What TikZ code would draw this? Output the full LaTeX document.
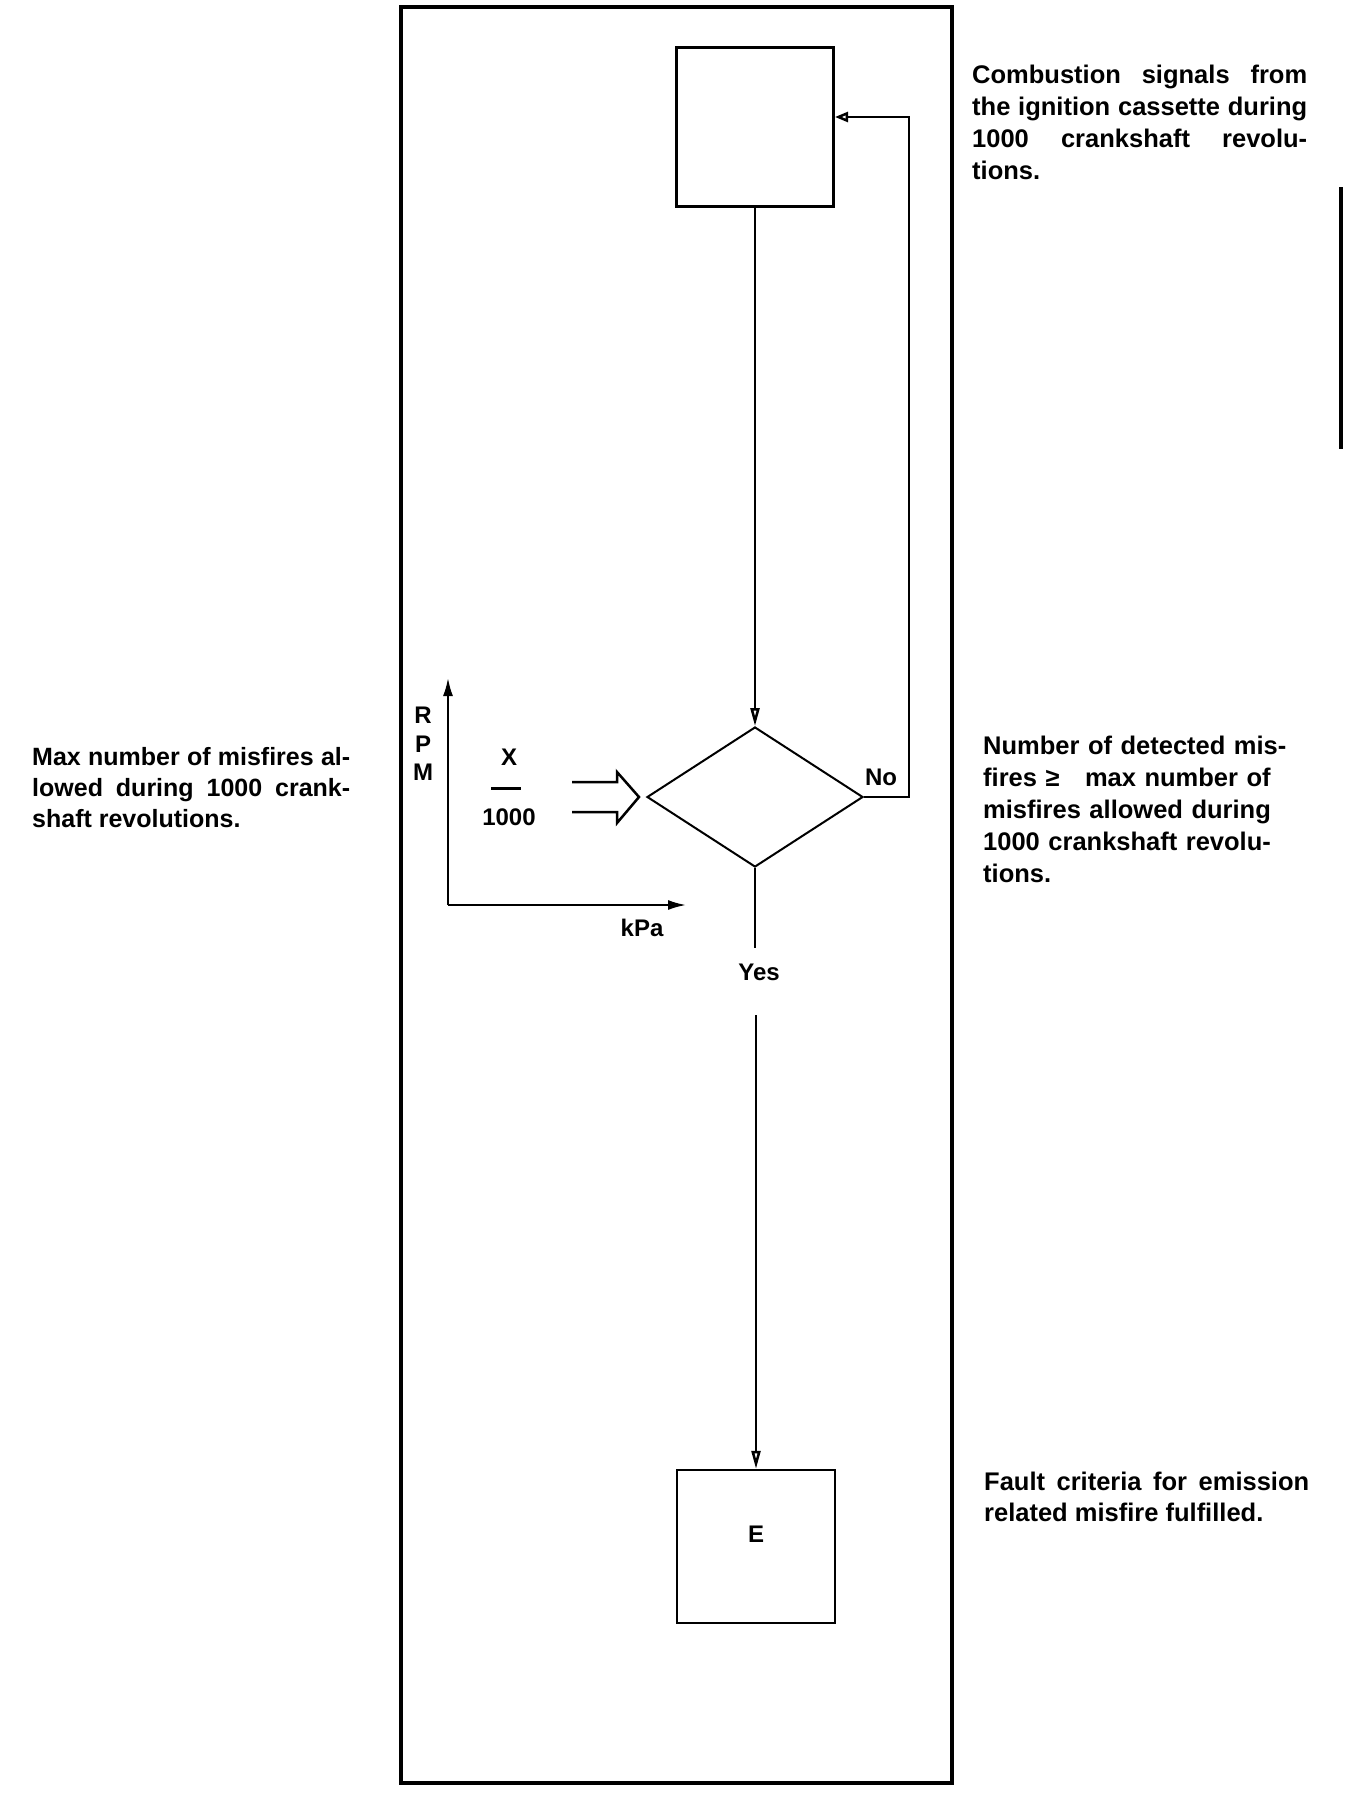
\documentclass[tikz,border=0pt]{standalone}
\usepackage{fontspec}
\setmainfont{Liberation Sans}
\usetikzlibrary{positioning, arrows.meta, shapes.geometric}

\begin{document}
\begin{tikzpicture}[x=1pt, y=-1pt,
    box/.style={draw, line width=3pt, minimum width=157pt, minimum height=159pt, inner sep=0pt},
    decide/.style={draw, diamond, line width=2pt, minimum width=216pt, minimum height=140pt, inner sep=0pt},
    flow/.style={line width=2.5pt, -{Triangle[open, length=18pt, width=9pt]}},
    axis/.style={line width=2pt, -{Latex[length=18pt, width=10pt]}},
    lbl/.style={font=\bfseries\fontsize{24}{28.5}\selectfont, inner sep=0pt},
    note/.style={font=\bfseries\fontsize{25.5}{32}\selectfont, inner sep=0pt, anchor=base west}]
\useasboundingbox (0,0) rectangle (1360,1820);

% Outer frame
\draw[line width=3.5pt] (401,7) rectangle (952,1783);
\draw[line width=3.5pt] (1341,187) -- (1341,449);

% Flow chart
\node[box] (sig) at (755,126.5) {};
\node[decide] (dec) at (755,797) {};
\node[box, minimum width=158pt, minimum height=153pt, line width=2.5pt,
      text depth=24pt, font=\bfseries\fontsize{24}{28}\selectfont] (fault) at (756,1546.5) {E};
\node[lbl] (no) at (881,777) {No};
\node[lbl] (yes) at (759,972) {Yes};
\coordinate (loop) at (909,117);
\coordinate (yestop) at (755,948);
\coordinate (yesbot) at (756,1015);
\draw[flow] (sig) -- (dec);
\draw[flow, -{Triangle[open, length=13pt, width=10pt]}] (dec.east) -| (loop) -- (sig.east |- loop);
\draw[line width=2pt] (dec.south) -- (yestop);
\draw[flow] (yesbot) -- (fault);

% Map input
\coordinate (axo) at (448,905);
\coordinate (rpmend) at (448,678);
\coordinate (kpaend) at (686,905);
\draw[axis] (axo) -- (rpmend);
\draw[axis] (axo) -- (kpaend);
\node[lbl, align=center] (rpm) at (423,744) {R\\P\\M};
\node[lbl] (kpa) at (642,928) {kPa};
\node[lbl] (ratx) at (509,757) {X};
\node[inner sep=0pt] (ratbar) at (506,788) {\rule{30pt}{3pt}};
\node[lbl] (ratn) at (509,817) {1000};
\draw[line width=2.5pt, line join=miter] (572,782) -- (617,782) -- (617,772) -- (639,797)
    -- (617,823) -- (617,812) -- (572,812);

% Notes
\node[note, text width=335pt, align=justify] (sigtxt) at (972,83)
    {Combustion signals from\linebreak the ignition cassette during\linebreak 1000 crankshaft revolu-\linebreak tions.};
\node[note, text width=318pt, align=justify, font=\bfseries\fontsize{25}{31.3}\selectfont] (maxtxt) at (32,765)
    {Max number of misfires al-\linebreak lowed during 1000 crank-\linebreak shaft revolutions.};
\node[note, text width=340pt, align=left] (dectxt) at (983,754)
    {Number of detected mis-\\fires ≥ \ \ max number of\\misfires allowed during\\1000 crankshaft revolu-\\tions.};
\node[note, text width=325pt, align=justify, font=\bfseries\fontsize{25.5}{31.3}\selectfont] (faulttxt) at (984,1490)
    {Fault criteria for emission\linebreak related misfire fulfilled.};
\end{tikzpicture}
\end{document}
